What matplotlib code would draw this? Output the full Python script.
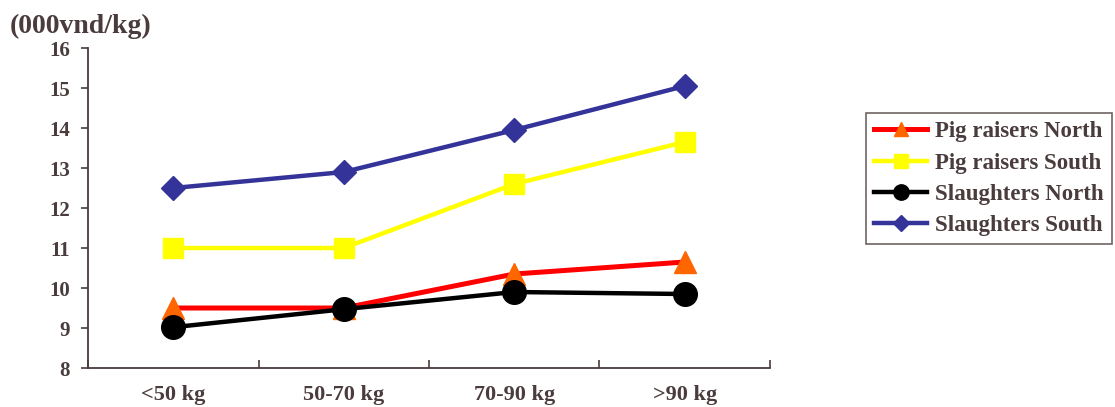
import numpy as np
import matplotlib.pyplot as plt

# weight classes and prices (000 vnd/kg)
categories = ['<50 kg', '50-70 kg', '70-90 kg', '>90 kg']
pig_north = [9.5, 9.5, 10.35, 10.65]
pig_south = [11.0, 11.0, 12.6, 13.65]
slaughter_north = [9.02, 9.47, 9.9, 9.85]
slaughter_south = [12.5, 12.9, 13.95, 15.05]

txt = '#4a3c3c'
plt.rcParams['font.family'] = ['Liberation Serif', 'DejaVu Serif']
plt.rcParams['font.weight'] = 'bold'

fig = plt.figure(figsize=(11.15, 4.07), dpi=100)
ax = fig.add_axes([0.079, 0.0958, 0.6115, 0.7862])

x = np.arange(len(categories)) + 0.5

ax.plot(x, slaughter_south, color='#333399', lw=3.2, marker='D', ms=12,
        mfc='#333399', mec='#333399', label='Slaughters South', zorder=3)
ax.plot(x, pig_south, color='#ffff00', lw=3.2, marker='s', ms=15,
        mfc='#ffff00', mec='#ffff00', label='Pig raisers South', zorder=4)
ax.plot(x, pig_north, color='#ff0000', lw=3.6, marker='^', ms=16,
        mfc='#ff6600', mec='#ff6600', label='Pig raisers North', zorder=5)
ax.plot(x, slaughter_north, color='black', lw=3.2, marker='o', ms=17,
        mfc='black', mec='black', mew=1, label='Slaughters North', zorder=6)

ax.set_xlim(0, len(categories))
ax.set_ylim(8, 16)
ax.set_yticks(np.arange(8, 17, 1))
ax.set_xticks(np.arange(len(categories) + 1))
ax.set_xticklabels([])
ax.set_xticks(x, minor=True)
ax.set_xticklabels(categories, minor=True)
ax.tick_params(axis='x', which='minor', length=0, pad=12, labelsize=16, labelcolor=txt)
ax.tick_params(axis='x', which='major', length=6, width=1.2, direction='in', color=txt)
ax.tick_params(axis='y', length=5, width=1.2, direction='out', color=txt,
               labelsize=15, labelcolor=txt, pad=8)

for s in ['top', 'right']:
    ax.spines[s].set_visible(False)
for s in ['left', 'bottom']:
    ax.spines[s].set_color(txt)
    ax.spines[s].set_linewidth(1.3)

fig.text(0.009, 0.965, '(000vnd/kg)', fontsize=20, fontweight='bold', color=txt,
         va='top', ha='left')

h, l = ax.get_legend_handles_labels()
order = [2, 1, 3, 0]
leg = fig.legend([h[i] for i in order], [l[i] for i in order],
                 loc='upper left', bbox_to_anchor=(0.777, 0.722),
                 fontsize=16.5, frameon=True, fancybox=False, edgecolor=txt,
                 handlelength=2.3, handletextpad=0.35, labelspacing=0.45,
                 borderpad=0.35, borderaxespad=0, markerscale=0.65)
leg.get_frame().set_linewidth(1.2)
for t in leg.get_texts():
    t.set_color(txt)

fig.savefig('out.png', dpi=100)
